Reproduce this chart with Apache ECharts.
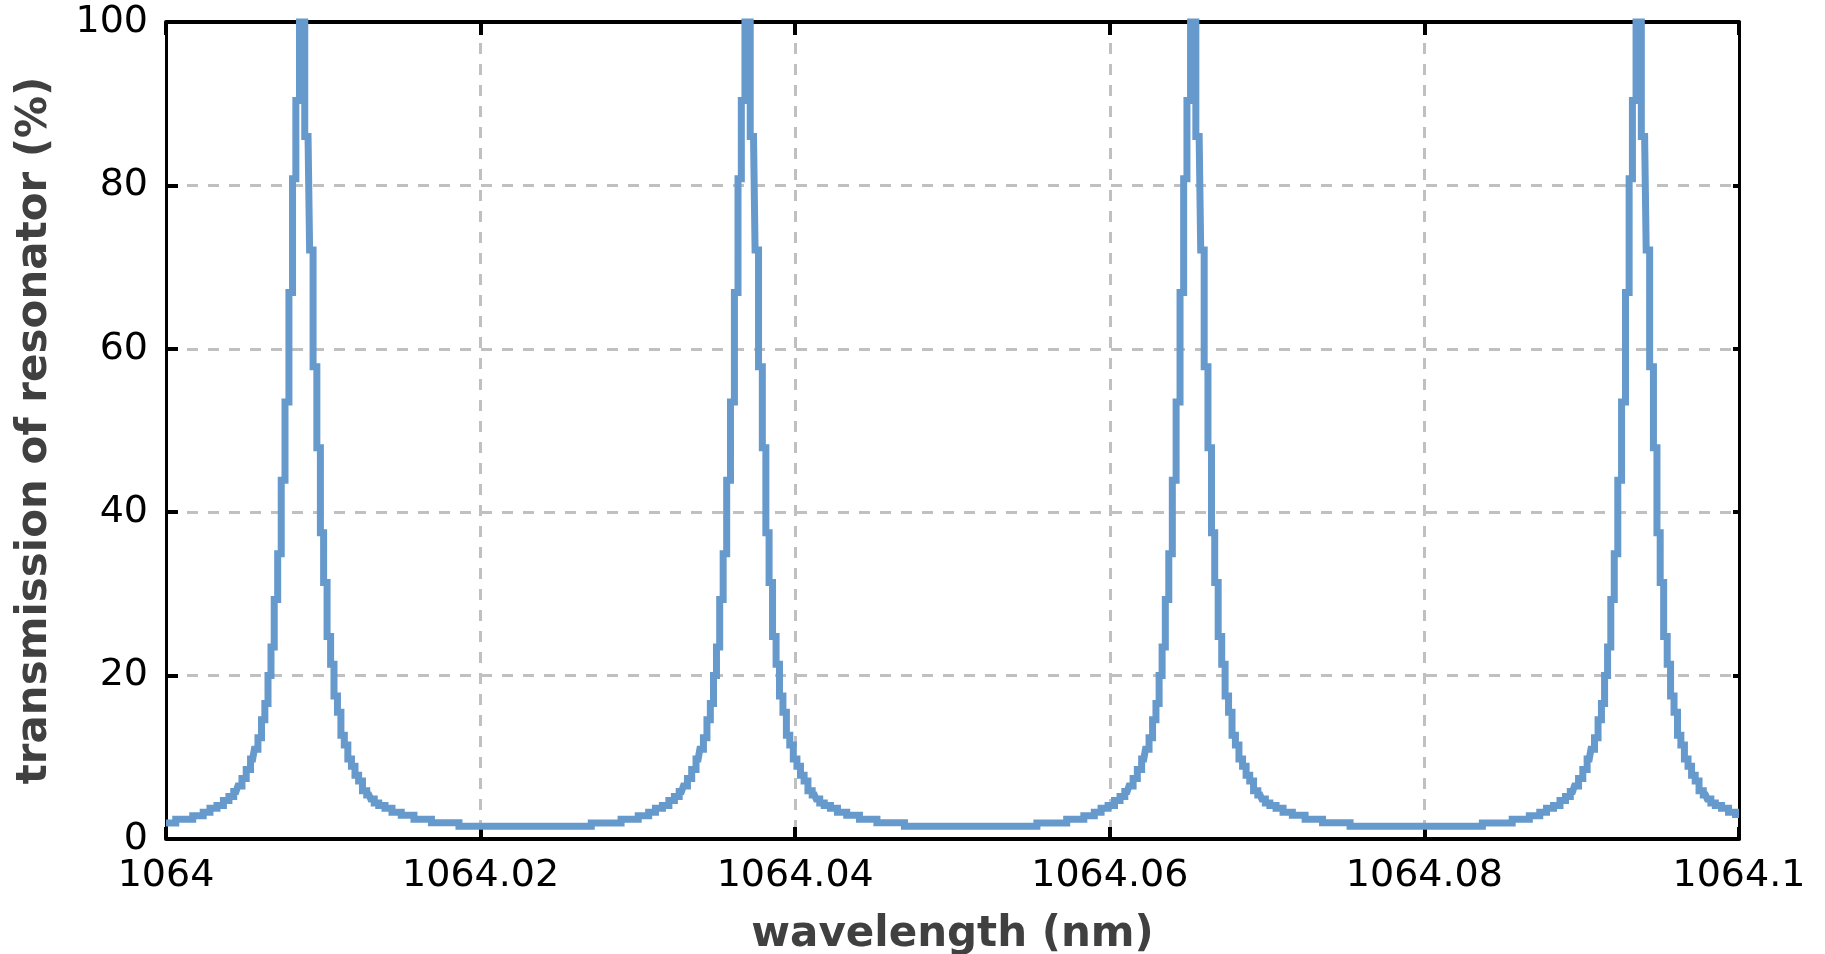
<!DOCTYPE html>
<html>
<head>
<meta charset="utf-8">
<script src="https://cdn.jsdelivr.net/npm/echarts@6/dist/echarts.min.js"></script>
<style>
html,body{margin:0;padding:0;background:#fff;}
#chart{width:1825px;height:954px;}
</style>
</head>
<body>
<div id="chart"></div>
<script>
// Tick labels
const wavelengthTicks = ['1064', '1064.02', '1064.04', '1064.06', '1064.08', '1064.1'];
const transmissionTicks = ['0', '20', '40', '60', '80', '100'];

// Resonance peak centres (nm)
const peakCenters = [1064.00858, 1064.03690, 1064.06523, 1064.09355];

// Shape of one resonance: wavelength offset from the peak (nm) and transmission (%)
const profileOffsets = [-0.01113, -0.00860, -0.00734, -0.00642, -0.00601, -0.00556, -0.00512, -0.00474, -0.00442, -0.00413,
  -0.00388, -0.00362, -0.00334, -0.00307, -0.00285, -0.00262, -0.00240, -0.00219, -0.00200, -0.00181,
  -0.00159, -0.00137, -0.00114, -0.00089, -0.00064, -0.00043, -0.00022, 0.00003,
  0.00045, 0.00065, 0.00089, 0.00113, 0.00134, 0.00154, 0.00178, 0.00199, 0.00221, 0.00243,
  0.00265, 0.00286, 0.00310, 0.00332, 0.00355, 0.00378, 0.00404, 0.00432, 0.00455, 0.00477,
  0.00512, 0.00556, 0.00601, 0.00674, 0.00763, 0.00896, 0.01113];
const profileValues = [1.55, 1.97, 2.41, 2.86, 3.27, 3.75, 4.1, 4.7, 5.2, 5.8,
  6.5, 7.4, 8.5, 9.8, 11.0, 12.4, 14.6, 16.6, 20.0, 23.5,
  29.3, 34.9, 43.9, 53.5, 66.9, 80.8, 90.4, 100,
  86, 72.1, 57.8, 47.9, 37.5, 31.4, 24.8, 21.4, 17.5, 15.5,
  12.7, 11.5, 9.8, 8.9, 7.8, 7.1, 5.9, 5.4, 4.9, 4.4,
  4.1, 3.75, 3.27, 2.9, 2.41, 2.0, 1.55];

// Values at the two ends of the wavelength range
const edgeWavelengths = [1064, 1064.1];
const edgeValues = [1.97, 3.0];

const xMin = 1064, xMax = 1064.1;
const points = [];
peakCenters.forEach(c => {
  profileOffsets.forEach((o, i) => {
    const x = +(c + o).toFixed(6);
    if (x > xMin && x < xMax) points.push([x, profileValues[i]]);
  });
});
edgeWavelengths.forEach((x, i) => points.push([x, edgeValues[i]]));
points.sort((a, b) => a[0] - b[0]);

const fontFamily = '"DejaVu Sans", Verdana, sans-serif';
const gridLine = { show: true, lineStyle: { color: '#c0c0c0', width: 3, type: [11, 10] } };

function xLabel(v) {
  const idx = Math.round((v - xMin) / 0.02);
  return wavelengthTicks[idx] !== undefined ? wavelengthTicks[idx] : String(v);
}
function yLabel(v) {
  const idx = Math.round(v / 20);
  return transmissionTicks[idx] !== undefined ? transmissionTicks[idx] : String(v);
}

const chart = echarts.init(document.getElementById('chart'), null, { renderer: 'canvas' });
chart.setOption({
  animation: false,
  backgroundColor: '#ffffff',
  grid: { left: 166, right: 86, top: 22, bottom: 115, containLabel: false, outerBoundsMode: 'none' },
  xAxis: [{
    type: 'value', min: xMin, max: xMax, interval: 0.02, position: 'bottom',
    name: 'wavelength (nm)', nameLocation: 'middle', nameGap: 75,
    nameTextStyle: { fontFamily, fontSize: 42, fontWeight: 'bold', color: '#404040' },
    axisLine: { show: true, onZero: false, lineStyle: { color: '#000', width: 4 } },
    axisTick: { show: true, inside: true, length: 12, lineStyle: { color: '#000', width: 4 } },
    axisLabel: { show: true, margin: 18, fontFamily, fontSize: 38, color: '#000', formatter: xLabel },
    splitLine: gridLine
  }, {
    type: 'value', min: xMin, max: xMax, interval: 0.02, position: 'top',
    axisLine: { show: true, onZero: false, lineStyle: { color: '#000', width: 4 } },
    axisTick: { show: true, inside: true, length: 13, lineStyle: { color: '#000', width: 4 } },
    axisLabel: { show: false },
    splitLine: { show: false }
  }],
  yAxis: [{
    type: 'value', min: 0, max: 100, interval: 20, position: 'left',
    name: 'transmission of resonator (%)', nameLocation: 'middle', nameGap: 110, nameRotate: 90,
    nameTextStyle: { fontFamily, fontSize: 42, fontWeight: 'bold', color: '#404040' },
    axisLine: { show: true, onZero: false, lineStyle: { color: '#000', width: 3 } },
    axisTick: { show: true, inside: true, length: 12, lineStyle: { color: '#000', width: 4 } },
    axisLabel: { show: true, margin: 18, fontFamily, fontSize: 38, color: '#000', formatter: yLabel },
    splitLine: gridLine
  }, {
    type: 'value', min: 0, max: 100, interval: 20, position: 'right',
    axisLine: { show: true, onZero: false, lineStyle: { color: '#000', width: 3 } },
    axisTick: { show: true, inside: true, length: 6, lineStyle: { color: '#000', width: 4 } },
    axisLabel: { show: false },
    splitLine: { show: false }
  }],
  series: [{
    type: 'line',
    xAxisIndex: 0, yAxisIndex: 0,
    data: points,
    step: 'middle',
    showSymbol: false,
    clip: false,
    lineStyle: { color: '#6699cc', width: 7, join: 'miter' },
    z: 5
  }]
});
</script>
</body>
</html>
